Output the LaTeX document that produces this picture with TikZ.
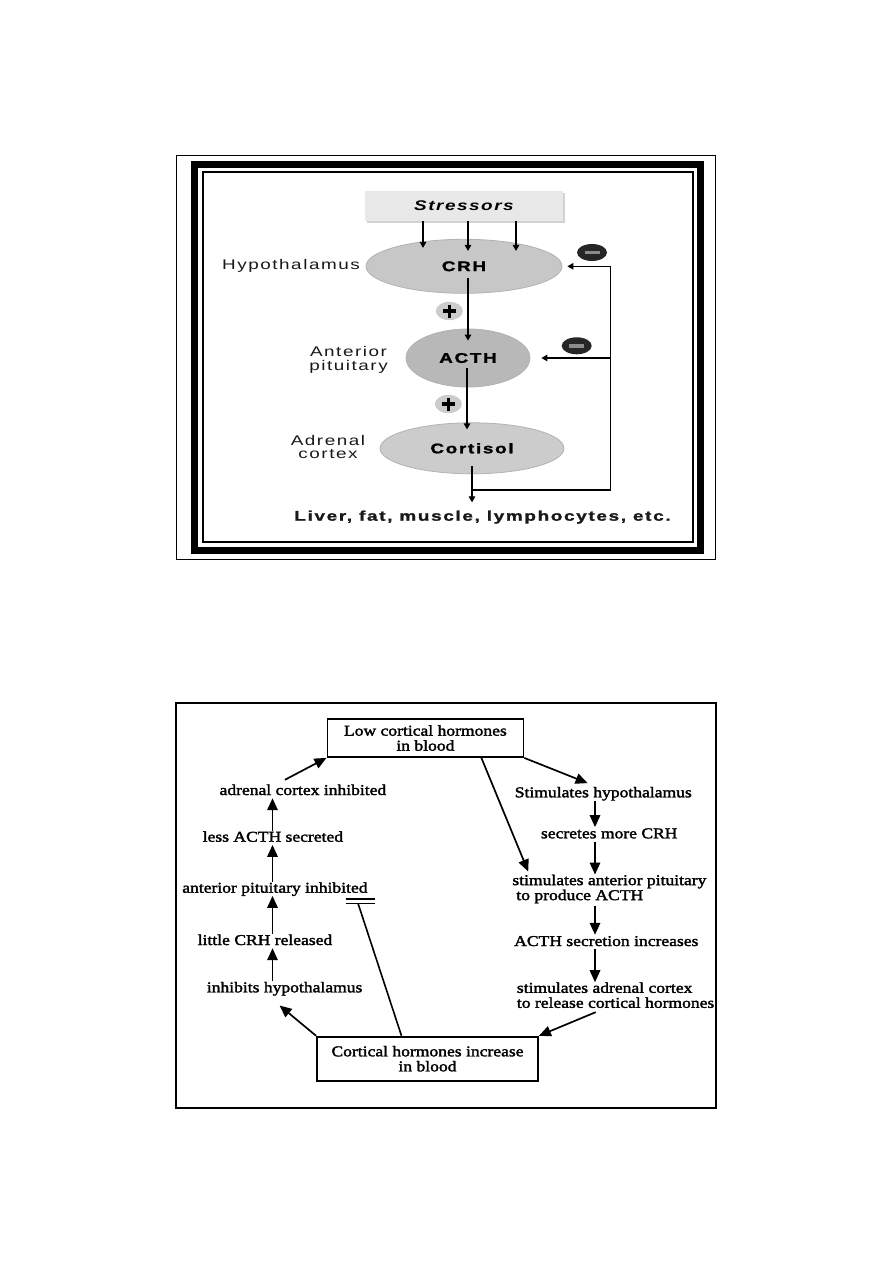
\documentclass[tikz,border=0pt]{standalone}
\usepackage{fontspec}
\usetikzlibrary{arrows.meta,shapes.geometric,shadows}

\newfontfamily\hpafont[FakeStretch=1.35,LetterSpace=11,BoldFeatures={FakeBold=1.5,LetterSpace=12}]{Liberation Sans}
\newfontfamily\loopfont[FakeStretch=1.17,FakeBold=2]{Liberation Serif}

\tikzset{
	gland/.style={ellipse, inner sep=0pt, draw=gray!60, line width=0.8pt,
		font=\hpafont\bfseries\fontsize{14}{14}\selectfont},
	organ/.style={inner sep=0pt, text=black!90, font=\hpafont\fontsize{14}{13.3}\selectfont},
	stressbox/.style={rectangle, fill=gray!18, minimum width=198pt, minimum height=30pt,
		drop shadow={shadow xshift=2pt, shadow yshift=-2pt, fill=gray!70},
		font=\hpafont\bfseries\itshape\fontsize{14}{14}\selectfont},
	minussign/.style={ellipse, fill=black!85, minimum width=30pt, minimum height=17pt, inner sep=0pt},
	plussign/.style={ellipse, fill=gray!40, minimum width=27pt, minimum height=15pt, inner sep=0pt},
	hpaline/.style={line width=1.2pt},
	hpaarrow/.style={line width=1.2pt, -{Triangle[length=6pt,width=6.5pt]}},
	loopstep/.style={inner sep=0pt, text height=11pt, text depth=3pt,
		font=\loopfont\fontsize{15}{15}\selectfont},
	loopnote/.style={inner sep=0pt, align=left, font=\loopfont\fontsize{15}{15}\selectfont},
	loopbox/.style={draw, line width=1.8pt, align=center, inner sep=0pt,
		font=\loopfont\fontsize{15}{15}\selectfont},
	loopline/.style={line width=1.6pt},
	looparrow/.style={line width=1.7pt, -{Triangle[length=12pt,width=10.5pt]}}
}
\newcommand{\minusbar}{\color{gray!90}\rule{15pt}{3.5pt}}
\newcommand{\plusbar}{\makebox[0pt]{\rule[-1.6pt]{13pt}{3.2pt}}\makebox[0pt]{\rule[-6.5pt]{3.2pt}{13pt}}}

\begin{document}
\begin{tikzpicture}[x=1pt,y=-1pt]
	\useasboundingbox (0,0) rectangle (893,1263);

	% upper panel: frame
	\draw[line width=1pt] (176,155) rectangle (715,559);
	\draw[line width=7pt] (194.5,164.5) rectangle (700,550);
	\draw[line width=1.5pt] (203,172) rectangle (693,542);

	% HPA axis
	\node[stressbox] (stressors) at (464,206) {Stressors};
	\node[gland, fill=gray!44, minimum width=196pt, minimum height=54pt] (crh) at (464,266.3) {CRH};
	\node[gland, fill=gray!56, minimum width=124pt, minimum height=58pt] (acth) at (468,358) {ACTH};
	\node[gland, fill=gray!40, minimum width=184pt, minimum height=51pt] (cortisol) at (472,448.3) {Cortisol};

	\node[organ, anchor=base] (hypolbl) at (291,269.3) {Hypothalamus};
	\node[organ, align=center, anchor=north] (antlbl) at (348.5,346.5) {Anterior\\pituitary};
	\node[organ, align=center, anchor=north] (adrlbl) at (328,434.8) {Adrenal\\cortex};
	\node[organ, font=\hpafont\bfseries\fontsize{14}{14}\selectfont, anchor=base] (liver) at (482.5,520.7) {Liver, fat, muscle, lymphocytes, etc.};

	\node[minussign] (negcrh) at (592,252.5) {\minusbar};
	\node[minussign] (negacth) at (576.7,345.8) {\minusbar};
	\node[plussign] (poscrh) at (449.3,311) {\plusbar};
	\node[plussign] (posacth) at (448.3,404) {\plusbar};

	\foreach \dx/\dy in {-41/-9, 4/-12, 52/-12}
		\draw[hpaarrow] ([xshift=\dx pt]stressors.south) -- ([xshift=\dx pt,yshift=\dy pt]crh.north);
	\draw[hpaarrow] ([xshift=4pt,yshift=-12pt]crh.center) -- ([yshift=-12pt]acth.north);
	\draw[hpaarrow] ([xshift=-1pt,yshift=-10pt]acth.center) -- ([xshift=-5pt,yshift=-7pt]cortisol.north);
	\draw[hpaarrow, shorten >=8pt] ([yshift=-18pt]cortisol.center) -- (cortisol.center |- liver.north);

	% negative feedback
	\coordinate (split) at (472,490);
	\coordinate (fbcorner) at (610.5,490);
	\draw[hpaline] (split) -- (fbcorner) -- (fbcorner |- crh.center);
	\draw[hpaarrow] (fbcorner |- crh.center) -- ([xshift=5pt]crh.east);
	\draw[hpaarrow] (fbcorner |- acth.center) -- ([xshift=11pt]acth.east);

	% lower panel: frame
	\draw[line width=1.5pt] (176,703) rectangle (716,1108);

	\node[loopbox, minimum width=196pt, minimum height=38pt] (low) at (425.4,738) {Low cortical hormones\\in blood};
	\node[loopbox, minimum width=221pt, minimum height=44pt] (high) at (427.5,1058.7) {Cortical hormones increase\\in blood};

	\node[loopstep, anchor=base] (adrinh) at (302.9,795) {adrenal cortex inhibited};
	\node[loopstep, anchor=base] (lessacth) at (272.9,841.7) {less ACTH secreted};
	\node[loopstep, anchor=base] (antinh) at (274.9,892.7) {anterior pituitary inhibited};
	\node[loopstep, anchor=base] (littlecrh) at (265,945) {little CRH released};
	\node[loopstep, anchor=base] (inhhypo) at (284.6,992.3) {inhibits hypothalamus};

	\node[loopstep, anchor=base west] (stimhypo) at (514.6,797.3) {Stimulates hypothalamus};
	\node[loopstep, anchor=base west] (morecrh) at (540.8,838.3) {secretes more CRH};
	\node[loopnote, anchor=north west] (stimant) at (512.2,874.5) {stimulates anterior pituitary\\\hspace*{4pt}to produce ACTH};
	\node[loopstep, anchor=base west] (acthup) at (514,946) {ACTH secretion increases};
	\node[loopnote, anchor=north west] (stimadr) at (516.7,982.2) {stimulates adrenal cortex\\to release cortical hormones};

	% inhibition side
	\coordinate (lcol) at (272.5,0);
	\draw[looparrow] (lcol |- inhhypo.north) -- (lcol |- littlecrh.south);
	\draw[looparrow] (lcol |- littlecrh.north) -- (lcol |- antinh.south);
	\draw[looparrow] (lcol |- antinh.north) -- (lcol |- lessacth.south);
	\draw[looparrow] (lcol |- lessacth.north) -- (lcol |- adrinh.south);
	\draw[looparrow] ([xshift=-18pt,yshift=4pt]adrinh.north) -- (low.south west);
	\draw[looparrow] (high.north west) -- ([xshift=-5pt,yshift=-10pt]inhhypo.south);

	% stimulation side
	\coordinate (rcol) at (595,0);
	\draw[looparrow] (rcol |- stimhypo.south) -- (rcol |- morecrh.north);
	\draw[looparrow] (rcol |- morecrh.south) -- (rcol |- stimant.north);
	\draw[looparrow, shorten <=2pt] (rcol |- stimant.south) -- (rcol |- acthup.north);
	\draw[looparrow] (rcol |- acthup.south) -- (rcol |- stimadr.north);
	\draw[looparrow] (low.south east) -- ([xshift=73pt,yshift=3pt]stimhypo.north west);
	\draw[looparrow] ([xshift=56pt]low.south) -- ([xshift=16pt,yshift=3pt]stimant.north west);
	\draw[looparrow] ([xshift=79pt,yshift=-4pt]stimadr.south west) -- (high.north east);

	% block on the pituitary
	\coordinate (block) at (360,903.3);
	\draw[loopline] ([xshift=-26pt]high.north) -- ([xshift=-2pt]block);
	\draw[line width=1.3pt] ([xshift=-14.5pt]block) -- ([xshift=14.5pt]block);
	\draw[line width=1.3pt] ([xshift=-14.5pt,yshift=4.3pt]block) -- ([xshift=14.5pt,yshift=4.3pt]block);
\end{tikzpicture}
\end{document}
